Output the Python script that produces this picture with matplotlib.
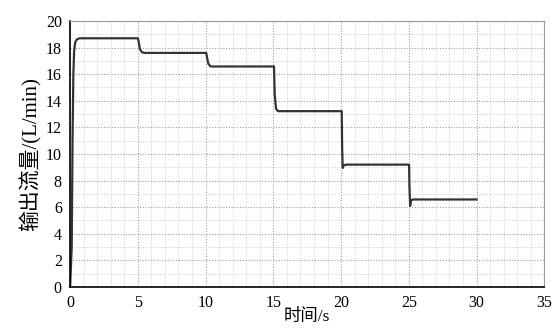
import matplotlib.pyplot as plt
from matplotlib.ticker import MultipleLocator

# 输出流量随时间变化 (读数)
t = [0.0, 0.12, 0.18, 0.24, 0.3, 0.38, 0.5, 0.7,
     5.0, 5.05, 5.15, 5.3, 5.5,
     10.05, 10.1, 10.2, 10.35, 10.5,
     15.05, 15.1, 15.2, 15.35,
     20.05, 20.08, 20.12, 20.2, 20.4,
     25.02, 25.05, 25.1, 25.15, 25.3, 30.0]
flow = [0.0, 3.0, 11.0, 16.0, 17.8, 18.4, 18.62, 18.7,
        18.7, 18.5, 17.9, 17.65, 17.6,
        17.6, 17.3, 16.8, 16.6, 16.58,
        16.58, 14.5, 13.4, 13.22,
        13.22, 10.5, 8.95, 9.15, 9.2,
        9.2, 7.5, 6.1, 6.5, 6.58, 6.58]

xticks = [0, 5, 10, 15, 20, 25, 30, 35]
yticks = [0, 2, 4, 6, 8, 10, 12, 14, 16, 18, 20]

num_font = ['Liberation Serif', 'Noto Sans CJK SC']

fig = plt.figure(figsize=(5.52, 3.28), dpi=100)
ax = fig.add_axes([0.127, 0.125, 0.859, 0.811])

ax.plot(t, flow, color='#333333', lw=1.6, solid_joinstyle='round')

ax.set_xlim(0, 35)
ax.set_ylim(0, 20)
ax.set_xticks(xticks)
ax.set_yticks(yticks)
ax.xaxis.set_minor_locator(MultipleLocator(1))
ax.yaxis.set_minor_locator(MultipleLocator(1))
ax.grid(which='major', color='#a0a0a0', ls=(0, (1, 1.5)), lw=0.8)
ax.grid(which='minor', color='#c8c8c8', ls=(0, (1, 1.5)), lw=0.6)
ax.tick_params(which='both', length=0, labelsize=11.5, pad=6)
for lab in ax.get_xticklabels() + ax.get_yticklabels():
    lab.set_family(num_font)

ax.spines['left'].set_linewidth(1.2)
ax.spines['bottom'].set_linewidth(1.2)
ax.spines['top'].set_color('#999999')
ax.spines['right'].set_color('#999999')
ax.spines['top'].set_linewidth(0.8)
ax.spines['right'].set_linewidth(0.8)

ax.set_xlabel('时间/s', family=num_font, fontsize=12.5, labelpad=-2)
ax.set_ylabel('输出流量/(L/min)', family=num_font, fontsize=15, labelpad=3)

fig.savefig('out.png', dpi=100)
